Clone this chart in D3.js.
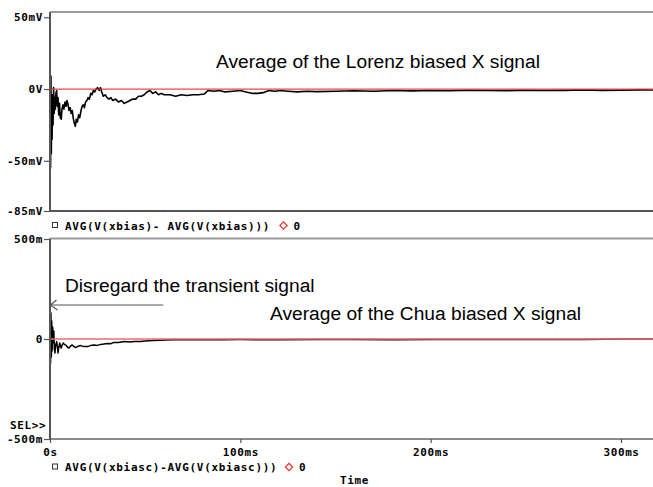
<!DOCTYPE html>
<html><head><meta charset="utf-8">
<script src="https://cdn.jsdelivr.net/npm/d3@7"></script>
<style>body{margin:0;background:#fff;overflow:hidden}</style>
</head><body><svg id="c" width="653" height="487"></svg>
<script>
// ---- data (time in ms, values in mV) ----
const lorenzTime = [0,0.3,0.5,0.7,0.9,1.1,1.3,1.6,1.9,2.2,2.5,2.8,3.1,3.5,3.8,4.2,4.6,5.0,5.4,5.9,6.3,6.8,7.3,7.9,8.4,8.9,9.5,10.0,10.6,11.1,11.7,12.3,12.8,13.3,13.8,14.4,15.0,15.6,16.3,16.9,17.5,18.1,18.7,19.4,20.0,20.7,21.4,22.1,22.8,23.5,24.2,25.0,25.8,26.5,27.2,28.0,29.0,30.0,31.0,32.0,33.0,34.5,36.0,37.5,39.0,40.5,42.0,43.5,45.0,46.5,48.0,49.5,51.0,52.5,54.0,55.5,57.0,58.5,60,63,66,69,72,75,78,81,83,86,89,92,96,100,103,106,109,112,115,118,121,125,130,135,140,150,160,170,180,190,200,210,220,230,240,250,260,270,280,290,300,310,317];
const lorenzAvg = [0,-55,9,-45,-10,-35,-4,-25,1,-17,-6,-14,-3,-1,-12,-6,-18,-10,-20,-21,-14,-11,-14,-9,-12,-8,-11,-15,-13,-17,-15,-21,-24,-26,-21,-23,-18,-20,-15,-12,-11,-13,-9,-8,-6,-7,-3,-4,-1,-2,0,1,-1,1,-2,-5,-4,-6,-7,-6,-8,-7,-9,-8,-10,-9,-8,-7,-7,-5,-5,-4,-2,-1,-3,-2,-4,-3,-4,-4,-5,-4,-4.5,-4,-4,-3.5,-1,-1.5,-1,-2,-1.5,-1,-2,-3,-3,-2.5,-1,-1.5,-1,-1.5,-2,-1.5,-1.8,-1.5,-1.2,-1.5,-1,-1.3,-1,-1.2,-0.8,-1,-1.1,-0.8,-1,-0.9,-0.7,-0.9,-0.8,-0.6,-0.7];
const chuaTime = [0,0.3,0.5,0.7,0.9,1.1,1.4,1.7,2.0,2.3,2.6,3.0,3.5,3.9,4.2,4.7,5.1,5.5,5.9,6.4,7.0,7.6,8.3,9.1,10.0,10.8,11.7,12.6,13.5,14.8,16.1,17.8,19.6,21.3,23.1,24.8,26.6,28.3,30.1,31.8,33.6,36,38.9,42,44,47.3,50,54,58,61,65,70,80,90,100,120,140,160,180,200,220,240,260,280,292,300,317];
const chuaAvg = [0,-120,130,-90,90,-60,60,-20,40,-50,-70,-30,-13,-40,-70,-40,-20,-35,-45,-30,-20,-28,-30,-40,-45,-35,-30,-38,-43,-36,-33,-38,-38,-33,-30,-32,-27,-25,-22,-24,-17,-18,-13,-15,-12,-13,-10,-8,-6,-5,-4,-4,-4,-4,-3,-4,-3,-3,-4,-3,-3,-3,-2,-2,-1,0,0];

const xTicks = [0,100,200,300];
const xTickLabels = ["0s","100ms","200ms","300ms"];
const topTicks = [50,0,-50,-85];
const topTickLabels = ["50mV","0V","-50mV","-85mV"];
const botTicks = [500,0,-500];
const botTickLabels = ["500m","0","-500m"];
const topLegend = "AVG(V(xbias)- AVG(V(xbias)))";
const botLegend = "AVG(V(xbiasc)-AVG(V(xbiasc)))";
const refLabel = "0";
const xTitle = "Time";
const selLabel = "SEL>>";
const noteLorenz = "Average of the Lorenz biased X signal";
const noteChua = "Average of the Chua biased X signal";
const noteTransient = "Disregard the transient signal";
const arrowTime = [59.5, 0];
const arrowLevel = 170;

// ---- layout ----
const svg = d3.select("#c");
const L = 50, R = 653;
const topP = {t: 12, b: 211};
const botP = {t: 238.5, b: 439};
const x = d3.scaleLinear().domain([0, 316.8]).range([L, R]);
const yTop = d3.scaleLinear().domain([-85, 50]).range([211, 17.3]);
const yBot = d3.scaleLinear().domain([-500, 500]).range([439, 239]);
const mono = "'DejaVu Sans Mono', monospace";
const sans = "'Liberation Sans', Arial, sans-serif";

const defs = svg.append("defs");
defs.append("clipPath").attr("id","ct").append("rect").attr("x",L).attr("y",topP.t).attr("width",R-L).attr("height",topP.b-topP.t);
defs.append("clipPath").attr("id","cb").append("rect").attr("x",L).attr("y",botP.t).attr("width",R-L).attr("height",botP.b-botP.t);

function frame(p, topColor, botColor){
  svg.append("line").attr("x1",L).attr("x2",R).attr("y1",p.t).attr("y2",p.t).attr("stroke",topColor).attr("stroke-width",2);
  svg.append("line").attr("x1",L).attr("x2",R).attr("y1",p.b).attr("y2",p.b).attr("stroke",botColor).attr("stroke-width",2);
}
frame(topP, "#9a9a9a", "#555");
frame(botP, "#9a9a9a", "#8a8a8a");

// traces
const lineTop = d3.line().x(d=>x(d[0])).y(d=>yTop(d[1]));
const lineBot = d3.line().x(d=>x(d[0])).y(d=>yBot(d[1]));
svg.append("path").attr("clip-path","url(#ct)").datum(d3.zip(lorenzTime, lorenzAvg))
  .attr("d", lineTop).attr("fill","none").attr("stroke","#000").attr("stroke-width",1.6).attr("stroke-linejoin","round");
svg.append("path").attr("clip-path","url(#cb)").datum(d3.zip(chuaTime, chuaAvg))
  .attr("d", lineBot).attr("fill","none").attr("stroke","#000").attr("stroke-width",1.5).attr("stroke-linejoin","round");

// reference zero lines
svg.append("line").attr("x1",L).attr("x2",R).attr("y1",yTop(0)).attr("y2",yTop(0)).attr("stroke","#e8323a").attr("stroke-width",1.2).attr("opacity",0.9);
svg.append("line").attr("x1",L).attr("x2",R).attr("y1",yBot(0)).attr("y2",yBot(0)).attr("stroke","#f26b6b").attr("stroke-width",2).attr("opacity",0.75);

// left axes
function leftAxis(scale, ticks, labels, p){
  const g = svg.append("g").attr("transform",`translate(${L},0)`)
    .call(d3.axisLeft(scale).tickValues(ticks).tickFormat((d,i)=>labels[i]).tickSize(6).tickPadding(1));
  g.select(".domain").remove();
  g.selectAll(".tick line").attr("stroke","#555").attr("stroke-width",1.2);
  g.selectAll(".tick text").attr("font-family",mono).attr("font-weight","bold").attr("font-size",11).attr("letter-spacing",0.6).attr("fill","#000");
  svg.append("line").attr("x1",L).attr("x2",L).attr("y1",p.t).attr("y2",p.b+1).attr("stroke","#555").attr("stroke-width",2);
}
leftAxis(yTop, topTicks, topTickLabels, topP);
leftAxis(yBot, botTicks, botTickLabels, botP);

// bottom x axis
const gx = svg.append("g").attr("transform",`translate(0,${botP.b})`)
  .call(d3.axisBottom(x).tickValues(xTicks).tickFormat((d,i)=>xTickLabels[i]).tickSize(4).tickPadding(5));
gx.select(".domain").remove();
gx.selectAll(".tick line").attr("stroke","#555").attr("stroke-width",1.2);
gx.selectAll(".tick text").attr("font-family",mono).attr("font-weight","bold").attr("font-size",11).attr("letter-spacing",0.6).attr("fill","#000");

// legends
function legend(y, text, diamondX){
  svg.append("rect").attr("x",52.5).attr("y",y-3).attr("width",5).attr("height",5).attr("fill","none").attr("stroke","#333").attr("stroke-width",1);
  svg.append("text").attr("x",65).attr("y",y+4).text(text)
    .attr("font-family",mono).attr("font-weight","bold").attr("font-size",11).attr("letter-spacing",0.7).attr("fill","#000");
  svg.append("rect").attr("x",-2.6).attr("y",-2.6).attr("width",5.2).attr("height",5.2)
    .attr("transform",`translate(${diamondX},${y}) rotate(45)`).attr("fill","none").attr("stroke","#e33").attr("stroke-width",1.2);
  svg.append("text").attr("x",diamondX+10).attr("y",y+4).text(refLabel)
    .attr("font-family",mono).attr("font-weight","bold").attr("font-size",11).attr("fill","#000");
}
legend(225.5, topLegend, 283.5);
legend(467, botLegend, 289);

svg.append("text").attr("x",340).attr("y",484).text(xTitle)
  .attr("font-family",mono).attr("font-weight","bold").attr("font-size",11).attr("letter-spacing",0.6).attr("fill","#000");
svg.append("text").attr("x",10).attr("y",429).text(selLabel)
  .attr("font-family",mono).attr("font-weight","bold").attr("font-size",11).attr("letter-spacing",0.6).attr("fill","#000");

// annotations
function note(tx, ty, s){
  svg.append("text").attr("x",tx).attr("y",ty).text(s).attr("font-family",sans).attr("font-size",19.2).attr("fill","#000");
}
note(216, 68, noteLorenz);
note(65, 292, noteTransient);
note(270, 320, noteChua);

// arrow
const ay = yBot(arrowLevel), ax0 = x(arrowTime[0]), ax1 = x(arrowTime[1]) + 0.5;
svg.append("line").attr("x1",ax0).attr("x2",ax1).attr("y1",ay).attr("y2",ay).attr("stroke","#555").attr("stroke-width",1.2);
svg.append("path").attr("d",`M${ax1+6},${ay-5}L${ax1},${ay}L${ax1+7},${ay+5}`).attr("fill","none").attr("stroke","#555").attr("stroke-width",1.2);
</script></body></html>
